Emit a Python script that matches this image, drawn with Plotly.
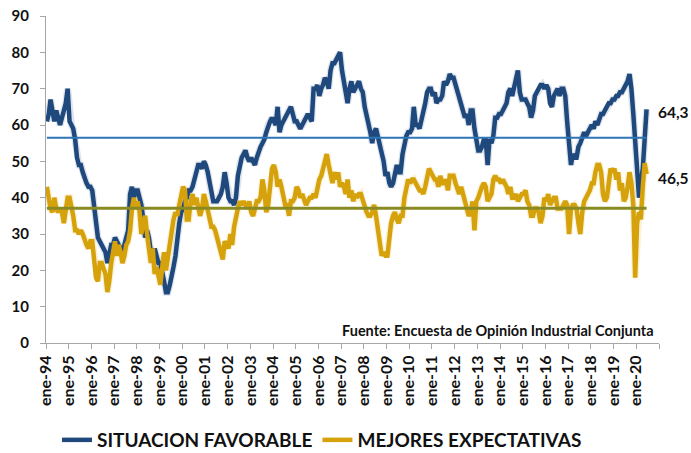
import pandas as pd
import plotly.graph_objects as go

# ---- data (monthly, Jan-1994 .. Jun-2020) ----
fav_1994_2000 = [
    61, 63, 67, 64, 61, 64, 62, 60, 62, 64, 66, 70,
    61, 60, 59, 56, 51, 49, 49, 47, 45, 44, 43, 43,
    42, 37, 33, 29, 28, 27, 26, 25, 22, 25, 27, 27,
    29, 28, 27, 26, 25, 27, 29, 31, 41, 43, 40, 42,
    42, 40, 38, 34, 29, 31, 29, 25, 23, 26, 24, 22,
    22, 20, 17, 14, 14, 16, 18, 21, 24, 29, 33, 36,
    37, 39, 40, 42, 42, 43, 45, 47, 49, 49, 48, 50,
]
fav_2001_2007 = [
    49, 47, 44, 42, 39, 39, 39, 40, 41, 43, 47, 44,
    40, 39, 39, 38, 40, 46, 49, 51, 52, 53, 51, 50,
    51, 50, 49, 51, 53, 54, 55, 56, 58, 60, 61, 62,
    61, 60, 65, 58, 60, 61, 62, 63, 64, 65, 63, 61,
    61, 60, 59, 60, 61, 62, 63, 62, 61, 70, 70, 71,
    68, 70, 71, 73, 72, 70, 75, 77, 77, 78, 79, 80,
    75, 72, 68, 66, 70, 72, 69, 70, 71, 72, 70, 69,
]
fav_2008_2014 = [
    65, 63, 60, 58, 55, 58, 59, 57, 55, 53, 50, 46,
    47, 44, 43, 44, 47, 49, 47, 47, 52, 55, 57, 58,
    58, 59, 65, 60, 60, 59, 61, 63, 66, 69, 70, 70,
    68, 69, 66, 67, 67, 68, 72, 71, 72, 74, 73, 73,
    71, 69, 67, 65, 63, 62, 63, 60, 64, 64, 59, 56,
    53, 53, 54, 56, 56, 49, 56, 55, 57, 62, 62, 63,
    63, 64, 65, 66, 69, 70, 68, 70, 72, 75, 69, 67,
]
fav_2015_2020 = [
    67, 67, 66, 65, 62, 64, 68, 69, 70, 71, 71, 70,
    71, 70, 66, 65, 68, 69, 70, 68, 70, 70, 68, 61,
    55, 49, 52, 51, 51, 54, 55, 57, 58, 57, 58, 59,
    60, 59, 61, 60, 62, 63, 63, 64, 65, 66, 66, 67,
    67, 68, 68, 69, 69, 70, 71, 72, 74, 70, 63, 55,
    46, 40, 44, 48, 56, 64.3,
]

exp_1994_2000 = [
    43, 39, 37, 36, 40, 37, 36, 37, 36, 33, 37, 40,
    40, 38, 35, 31, 31, 30, 31, 30, 28, 27, 26, 28,
    28, 23, 18, 17, 22, 22, 20, 19, 14, 17, 22, 25,
    28, 24, 27, 25, 22, 24, 27, 28, 31, 37, 40, 37,
    39, 36, 30, 33, 35, 30, 25, 22, 26, 19, 21, 18,
    16, 21, 25, 20, 24, 27, 31, 34, 36, 35, 38, 40,
    43, 42, 34, 34, 39, 41, 38, 40, 37, 35, 37, 41,
]
exp_2001_2007 = [
    39, 36, 34, 32, 32, 31, 29, 27, 24, 23, 28, 27,
    26, 30, 27, 32, 35, 37, 39, 38, 39, 38, 37, 39,
    36, 35, 37, 39, 39, 40, 45, 42, 36, 38, 43, 48,
    49, 47, 43, 45, 43, 40, 38, 38, 35, 39, 39, 40,
    43, 42, 40, 41, 39, 38, 39, 40, 40, 41, 40, 43,
    45, 46, 48, 51, 52, 49, 46, 44, 47, 45, 47, 43,
    44, 43, 41, 45, 40, 42, 39, 41, 40, 41, 41, 39,
]
exp_2008_2014 = [
    37, 36, 35, 35, 36, 38, 35, 31, 26, 24, 25, 24,
    24, 30, 33, 35, 36, 34, 33, 35, 35, 40, 43, 45,
    44, 45, 45, 44, 43, 42, 42, 41, 43, 45, 48, 47,
    46, 45, 45, 43, 46, 44, 44, 45, 42, 46, 46, 46,
    44, 42, 41, 43, 41, 39, 37, 35, 36, 39, 31, 39,
    40, 42, 43, 44, 43, 39, 40, 41, 45, 46, 45, 45,
    44, 45, 44, 43, 41, 43, 40, 40, 41, 39, 40, 41,
]
exp_2015_2020 = [
    41, 42, 39, 38, 35, 35, 37, 37, 36, 33, 35, 40,
    39, 41, 38, 39, 40, 40, 37, 37, 37, 38, 39, 38,
    30, 37, 38, 38, 37, 33, 30, 36, 39, 40, 41, 42,
    44, 44, 47, 49, 49, 47, 41, 39, 40, 44, 48, 47,
    48, 45, 47, 42, 44, 39, 40, 43, 47, 44, 38, 18,
    33, 36, 34, 43, 49.5, 46.5,
]

situacion_favorable = fav_1994_2000 + fav_2001_2007 + fav_2008_2014 + fav_2015_2020
mejores_expectativas = exp_1994_2000 + exp_2001_2007 + exp_2008_2014 + exp_2015_2020

promedio_favorable = 56.5
promedio_expectativas = 37.1

tick_years = list(range(1994, 2021))
tick_labels = ["ene-%02d" % (y % 100) for y in tick_years]

last_labels = ["64,3", "46,5"]
fuente = "Fuente: Encuesta de Opinión Industrial Conjunta"

# ---- build ----
dates = pd.date_range("1994-01-01", periods=len(situacion_favorable), freq="MS") + pd.Timedelta(days=14)
exp_dates = pd.date_range("1994-01-01", periods=len(mejores_expectativas), freq="MS") + pd.Timedelta(days=14)

BLUE = "#1F497D"
GOLD = "#D6A20C"
AVG_BLUE = "#2E75B6"
AVG_OLIVE = "#8A8A22"
FONT = "Lato"

fig = go.Figure()

# soft glow underlays
fig.add_trace(go.Scatter(x=dates, y=situacion_favorable, mode="lines",
                         line=dict(color="rgba(31,73,125,0.15)", width=7),
                         hoverinfo="skip", showlegend=False))
fig.add_trace(go.Scatter(x=exp_dates, y=mejores_expectativas, mode="lines",
                         line=dict(color="rgba(230,180,30,0.18)", width=7),
                         hoverinfo="skip", showlegend=False))

fig.add_trace(go.Scatter(x=dates, y=situacion_favorable, mode="lines",
                         name="<b>SITUACION FAVORABLE</b>",
                         line=dict(color=BLUE, width=4.5)))
fig.add_trace(go.Scatter(x=exp_dates, y=mejores_expectativas, mode="lines",
                         name="<b>MEJORES EXPECTATIVAS</b>",
                         line=dict(color=GOLD, width=4.5)))

# average lines
fig.add_trace(go.Scatter(x=[dates[0], dates[-1]], y=[promedio_favorable] * 2, mode="lines",
                         line=dict(color=AVG_BLUE, width=2), showlegend=False, hoverinfo="skip"))
fig.add_trace(go.Scatter(x=[exp_dates[0], exp_dates[-1]], y=[promedio_expectativas] * 2, mode="lines",
                         line=dict(color=AVG_OLIVE, width=3), showlegend=False, hoverinfo="skip"))

# end labels
fig.add_annotation(x=dates[-1], y=situacion_favorable[-1], text="<b>%s</b>" % last_labels[0],
                   showarrow=False, xanchor="left", yanchor="middle", xshift=9, yshift=-3,
                   font=dict(family=FONT, size=15.5, color="#111111"))
fig.add_annotation(x=exp_dates[-1], y=mejores_expectativas[-1], text="<b>%s</b>" % last_labels[1],
                   showarrow=False, xanchor="left", yanchor="middle", xshift=9, yshift=-4,
                   font=dict(family=FONT, size=15.5, color="#111111"))

fig.add_annotation(xref="paper", yref="paper", x=0.995, y=0.037, text="<b>%s</b>" % fuente,
                   showarrow=False, xanchor="right", yanchor="middle",
                   font=dict(family=FONT, size=14.5, color="#111111"))

tickvals = [pd.Timestamp(year=y, month=1, day=1) for y in tick_years] + [pd.Timestamp("2021-01-01")]
ticktext = ["<b>%s</b>" % t for t in tick_labels] + [""]

fig.update_xaxes(
    type="date", range=["1994-01-01", "2021-01-01"], automargin=False,
    tickmode="array", tickvals=tickvals, ticktext=ticktext, tickangle=-90,
    showline=True, linecolor="#A6A6A6", linewidth=1,
    ticks="outside", ticklen=5, tickcolor="#A6A6A6",
    showgrid=False, zeroline=False, ticklabeloverflow="allow",
    tickfont=dict(family=FONT, size=16, color="#111111"),
)
fig.update_yaxes(
    range=[0, 90], automargin=False, tickmode="array", tickvals=list(range(0, 91, 10)),
    ticktext=["<b>%d</b>" % v for v in range(0, 91, 10)],
    showline=True, linecolor="#A6A6A6", linewidth=1,
    ticks="outside", ticklen=5, tickcolor="#A6A6A6", ticklabelstandoff=8,
    showgrid=False, zeroline=False, ticklabeloverflow="allow",
    tickfont=dict(family=FONT, size=15, color="#111111"),
)

fig.update_layout(
    width=691, height=453,
    margin=dict(l=46, r=32, t=16, b=110, autoexpand=False),
    paper_bgcolor="white", plot_bgcolor="white",
    showlegend=True,
    legend=dict(orientation="h", xref="container", yref="container",
                x=0.466, y=0.0287, xanchor="center", yanchor="middle",
                font=dict(family=FONT, size=19, color="#111111"),
                itemwidth=30, traceorder="normal", tracegroupgap=0),
    font=dict(family=FONT),
)

# remove the default page margin so the figure fills the window exactly
fig.write_html("out.html",
               config={"displayModeBar": False},
               post_script="document.body.style.margin='0px';"
                           "document.body.style.overflow='hidden';")
